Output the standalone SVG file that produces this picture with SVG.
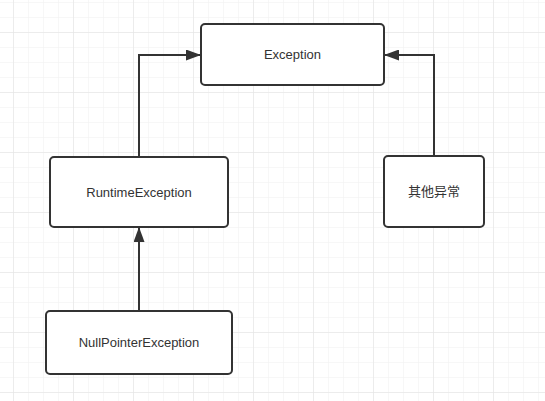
<svg xmlns="http://www.w3.org/2000/svg" width="545" height="401" viewBox="0 0 545 401">
  <defs>
    <pattern id="minor" x="13" y="2" width="15" height="15" patternUnits="userSpaceOnUse">
      <path d="M0 0H15M0 0V15" fill="none" stroke="#efefef" stroke-width="1"/>
    </pattern>
    <pattern id="major" x="13" y="32" width="60" height="60" patternUnits="userSpaceOnUse">
      <path d="M0 0H60M0 0V60" fill="none" stroke="#e2e2e2" stroke-width="1"/>
    </pattern>
    <marker id="arrow" viewBox="0 0 15 11" refX="14" refY="5.5" markerWidth="15" markerHeight="11" markerUnits="userSpaceOnUse" orient="auto">
      <path d="M0 0L15 5.5L0 11Z" fill="#333"/>
    </marker>
  </defs>
  <style>
    .node rect { fill: #fff; stroke: #333; stroke-width: 2; }
    .node text { font-family: "Liberation Sans", "Noto Sans CJK SC", sans-serif; font-size: 13px; fill: #333; text-anchor: middle; dominant-baseline: central; }
    .conn path { fill: none; stroke: #333; stroke-width: 2; }
  </style>
  <rect width="545" height="401" fill="#fff"/>
  <rect width="545" height="401" fill="url(#minor)"/>
  <rect width="545" height="401" fill="url(#major)"/>
  <g id="connectors" class="conn">
    <path d="M139 157V55H200" marker-end="url(#arrow)"/>
    <path d="M434 156V55H385" marker-end="url(#arrow)"/>
    <path d="M139 311V228" marker-end="url(#arrow)"/>
  </g>
  <g id="exception" class="node">
    <rect x="201" y="24" width="183" height="61" rx="4"/>
    <text x="292.5" y="54.5">Exception</text>
  </g>
  <g id="runtime" class="node">
    <rect x="50" y="157" width="178" height="70" rx="4"/>
    <text x="139" y="192">RuntimeException</text>
  </g>
  <g id="other" class="node">
    <rect x="384" y="156" width="100" height="71" rx="4"/>
    <text x="434" y="191.5">其他异常</text>
  </g>
  <g id="npe" class="node">
    <rect x="46" y="311" width="186" height="63" rx="4"/>
    <text x="139" y="342.5">NullPointerException</text>
  </g>
</svg>
